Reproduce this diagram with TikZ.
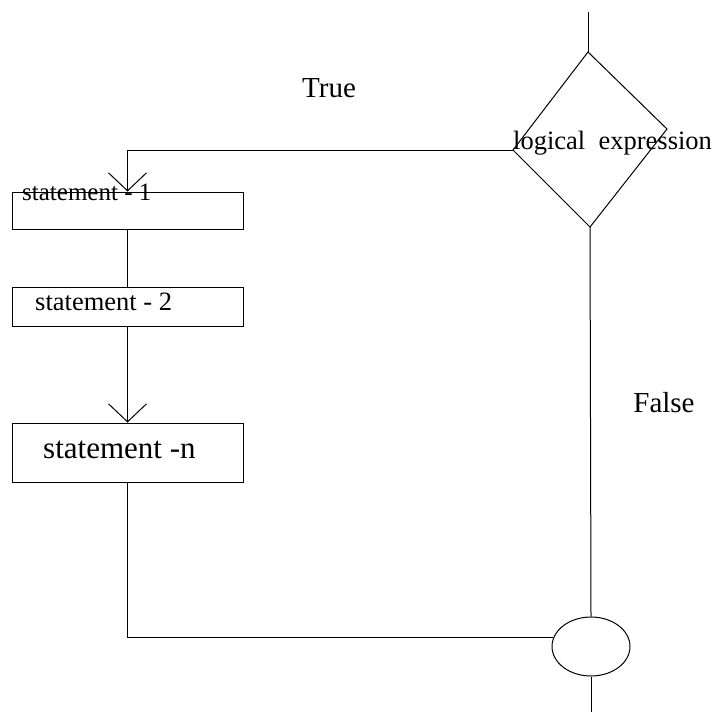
\documentclass[tikz,border=0pt]{standalone}
\usepackage{fontspec}
\setmainfont{Liberation Serif}
\usetikzlibrary{arrows.meta,shapes.geometric}
\begin{document}
\begin{tikzpicture}[x=1pt,y=-1pt,
  flow/.style={line width=1pt},
  stbox/.style={draw,line width=1pt,minimum width=231pt,inner sep=0pt},
  vee/.style={-{Straight Barb[length=18pt,width=38pt]}},
  lbl/.style={inner sep=0pt,anchor=base west},
  joinpt/.style={draw,ellipse,line width=1pt,minimum width=78pt,minimum height=59pt,inner sep=0pt}]
\useasboundingbox (0,0) rectangle (719,712);

% decision diamond
\coordinate (entry) at (588,12);
\coordinate (dt) at (588,52);
\coordinate (dl) at (513,150);
\coordinate (dr) at (667,129);
\coordinate (db) at (590,227);
\draw[flow] (dt) -- (dr) -- (db) -- (dl) -- cycle;
\node[lbl,font=\fontsize{26.5}{30}\selectfont] (cond) at (513,149) {logical\ \ expression};

% statement blocks
\node[stbox,minimum height=37pt] (s1) at (127.5,210.5) {};
\node[stbox,minimum height=39pt] (s2) at (127.5,306.5) {};
\node[stbox,minimum height=59pt] (sn) at (127.5,452.5) {};
\node[lbl,font=\fontsize{25}{28}\selectfont] (t1) at (22,200) {statement - 1};
\node[lbl,font=\fontsize{26.5}{30}\selectfont] (t2) at (35,310) {statement - 2};
\node[lbl,font=\fontsize{31}{34}\selectfont] (tn) at (43,458) {statement -n};

% join point and exit
\node[joinpt] (endc) at (591,646.5) {};
\coordinate (exit) at (591,712);

% branch labels
\node[font=\fontsize{29}{32}\selectfont] (ltrue) at (329,88) {True};
\node[font=\fontsize{29}{32}\selectfont] (lfalse) at (664,403) {False};

% connectors
\draw[flow] (entry) -- (dt);
\draw[flow,vee] (dl) -| (s1.north);
\draw[flow] (s1) -- (s2);
\draw[flow,vee] (s2) -- (sn);
\draw[flow] (sn.south) |- (endc.166);
\draw[flow] (db) -- (endc.north);
\draw[flow] (endc.south) -- (exit);
\end{tikzpicture}
\end{document}
